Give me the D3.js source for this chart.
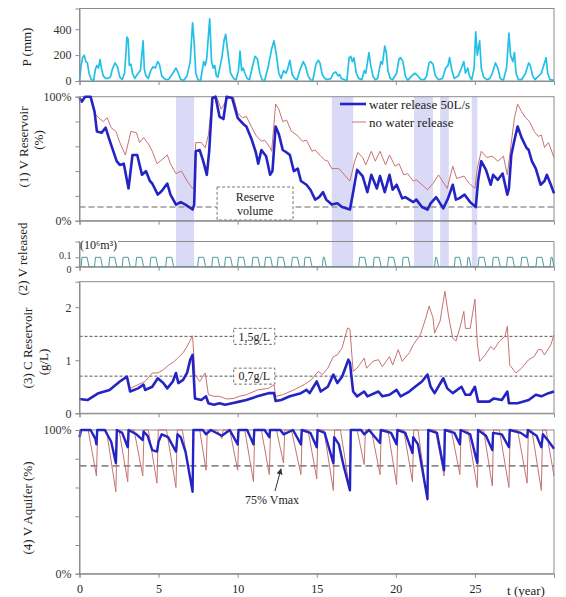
<!DOCTYPE html>
<html>
<head>
<meta charset="utf-8">
<script src="https://cdnjs.cloudflare.com/ajax/libs/d3/7.8.5/d3.min.js"></script>
<style>
  body { margin: 0; background: #fff; }
  svg text { font-family: "Liberation Serif", "DejaVu Serif", serif; }
</style>
</head>
<body>
<svg id="chart" width="566" height="597"></svg>
<script>

// ---- data (t in years) ----

var yearTicks = [0, 5, 10, 15, 20, 25];

// precipitation (mm)
var rain = [[0,0],[0.1,120],[0.2,180],[0.3,200],[0.4,150],[0.5,140],[0.6,60],[0.75,10],[0.9,5],
  [1.0,90],[1.1,120],[1.2,100],[1.3,165],[1.4,90],[1.5,40],[1.65,20],[1.8,20],[1.95,30],
  [2.1,100],[2.25,140],[2.4,110],[2.55,30],[2.7,10],[2.85,60],
  [3.0,340],[3.08,320],[3.15,120],[3.25,130],[3.35,60],[3.5,20],[3.7,60],[3.85,80],
  [4.02,310],[4.1,90],[4.2,40],[4.35,20],[4.5,80],[4.65,110],[4.8,100],[4.95,150],[5.05,130],[5.2,40],[5.35,20],[5.5,10],[5.65,15],
  [5.9,60],[6.1,100],[6.25,60],[6.4,10],[6.6,5],[6.8,40],[7.0,150],[7.15,450],[7.25,300],[7.35,60],[7.5,10],[7.65,0],
  [7.85,150],[7.95,120],[8.05,180],[8.15,350],[8.23,480],[8.35,150],[8.45,100],[8.55,120],[8.65,40],[8.75,30],
  [9.0,180],[9.15,320],[9.24,360],[9.4,200],[9.55,60],[9.75,20],[9.9,10],
  [10.05,80],[10.15,230],[10.25,80],[10.35,100],[10.45,60],[10.6,20],[10.75,10],
  [10.95,120],[11.1,190],[11.25,170],[11.4,60],[11.55,10],[11.7,0],
  [11.95,120],[12.15,250],[12.3,310],[12.45,200],[12.6,60],[12.75,20],
  [12.9,80],[13.05,60],[13.15,90],[13.3,160],[13.45,50],[13.6,20],[13.75,10],
  [13.95,90],[14.15,150],[14.3,110],[14.45,40],[14.6,10],[14.75,5],
  [14.95,130],[15.1,160],[15.2,140],[15.35,50],[15.5,20],[15.7,10],[15.9,20],
  [16.05,60],[16.2,70],[16.35,40],[16.45,50],[16.55,20],[16.75,10],[16.9,0],
  [17.05,180],[17.15,190],[17.25,150],[17.35,180],[17.5,60],[17.65,20],[17.85,10],
  [18.0,80],[18.1,60],[18.3,220],[18.4,130],[18.55,40],[18.7,10],[18.85,20],
  [19.05,150],[19.15,130],[19.3,270],[19.4,220],[19.5,80],[19.65,20],[19.8,10],
  [20.05,60],[20.2,170],[20.3,180],[20.45,150],[20.6,40],[20.75,5],
  [21.0,40],[21.2,60],[21.3,50],[21.45,30],[21.6,10],[21.8,10],
  [21.95,40],[22.1,140],[22.2,150],[22.35,130],[22.5,40],[22.7,10],
  [22.95,20],[23.15,100],[23.3,120],[23.4,180],[23.55,80],[23.7,20],
  [23.95,40],[24.15,100],[24.3,150],[24.4,60],[24.55,100],[24.65,40],[24.8,10],
  [24.95,100],[25.05,380],[25.15,200],[25.3,310],[25.4,100],[25.55,30],[25.75,10],
  [25.95,20],[26.1,60],[26.3,140],[26.45,100],[26.6,20],[26.8,5],
  [27.0,100],[27.15,370],[27.25,200],[27.4,150],[27.5,220],[27.6,60],[27.75,10],[27.95,10],
  [28.2,60],[28.4,140],[28.5,120],[28.65,40],[28.8,10],
  [29.2,60],[29.35,120],[29.5,180],[29.6,60],[29.75,10],[30,5]];

// (1) reservoir volume (%)
var vResRelease = [[0,99],[0.15,96],[0.35,100],[0.7,100],[0.95,88],[1.1,72],[1.4,71],[1.65,75],[1.9,65],[2.35,48],[2.55,45],[2.8,46],
  [3.1,26],[3.35,53],[3.65,53],[3.95,37],[4.2,40],[4.45,32],[4.6,30],[4.95,21],[5.2,24],[5.55,30],[5.75,21],[6.1,13],[6.4,15],[6.7,13],
  [7.15,9],[7.25,13],[7.35,56],[7.6,57],[7.8,49],[8.05,37],[8.2,56],[8.4,99],[8.6,100],[8.85,84],[9.1,82],[9.3,100],[9.65,99],
  [10.0,83],[10.35,78],[10.55,76],[10.9,65],[11.15,55],[11.3,46],[11.5,57],[11.8,52],[12.05,37],[12.2,40],[12.4,76],[12.6,70],
  [12.85,57],[13.1,55],[13.3,53],[13.55,40],[13.8,42],[14.0,32],[14.35,29],[14.6,25],[14.9,17],[15.15,19],[15.4,23],[15.6,17],
  [15.95,13],[16.3,14],[16.6,11],[17.1,9],[17.3,23],[17.55,41],[17.9,36],[18.2,23],[18.45,37],[18.8,26],[19.0,36],[19.3,23],
  [19.6,37],[19.8,25],[20.05,29],[20.4,18],[20.6,19],[21.1,15],[21.3,17],[21.65,11],[22.0,9],[22.2,14],[22.55,19],[22.8,14],
  [23.0,10],[23.3,18],[23.6,29],[23.8,17],[24.0,18],[24.35,21],[24.7,15],[25.05,11],[25.2,32],[25.4,48],[25.7,41],[26.0,29],
  [26.15,37],[26.45,33],[26.75,38],[27.05,21],[27.15,26],[27.3,53],[27.5,65],[27.7,76],[27.95,67],[28.25,59],[28.4,57],
  [28.6,48],[28.85,42],[29.15,29],[29.4,32],[29.55,37],[29.8,29],[30,22]];

var vResNoRelease = [[0,99],[0.15,96],[0.35,100],[0.7,100],[1.0,86],[1.2,83],[1.5,80],[1.75,83],[2.0,75],[2.3,72],[2.55,63],[2.9,53],
  [3.25,72],[3.6,71],[3.8,63],[4.05,67],[4.4,61],[4.6,56],[4.9,46],[5.2,49],[5.55,53],[5.75,46],[6.1,38],[6.45,40],[6.8,32],
  [7.15,26],[7.25,27],[7.35,63],[7.7,63],[7.95,59],[8.15,69],[8.4,100],[8.7,99],[8.95,90],[9.2,95],[9.4,100],[9.75,99],
  [10.0,87],[10.3,83],[10.55,84],[10.9,75],[11.15,69],[11.5,64],[11.7,65],[12.05,59],[12.15,56],[12.4,94],[12.6,90],[12.85,80],
  [13.1,81],[13.4,72],[13.75,69],[14.1,64],[14.35,65],[14.7,56],[14.9,57],[15.25,52],[15.5,49],[15.7,48],[15.95,42],[16.4,42],
  [16.75,37],[17.1,32],[17.4,48],[17.6,55],[17.9,51],[18.1,45],[18.45,56],[18.7,48],[19.0,56],[19.35,45],[19.6,53],[19.95,44],
  [20.2,46],[20.5,37],[20.75,38],[21.1,32],[21.3,33],[21.65,29],[22.0,25],[22.35,30],[22.7,37],[22.95,32],[23.25,26],[23.6,44],
  [23.85,34],[24.3,36],[24.65,30],[25.0,26],[25.15,42],[25.4,56],[25.75,51],[26.1,52],[26.45,48],[26.8,52],[27.05,37],[27.3,63],
  [27.5,83],[27.7,94],[27.95,88],[28.2,83],[28.45,80],[28.75,72],[29.0,68],[29.2,69],[29.4,59],[29.65,63],[30,51]];

var reserveLevel = 11;

// periods shaded in panels (1) and (2)
var bandStart = [6.1, 15.95, 21.15, 22.8, 24.8];
var bandEnd = [7.25, 17.3, 22.35, 23.35, 25.15];

// (2) released volume pulses (start year, duration, peak 10^6 m3)
var releaseStart = [0.1, 0.95, 1.85, 2.7, 3.55, 4.45, 5.45, 7.47, 8.36, 9.17, 9.99, 10.9, 11.7, 12.5, 13.4, 14.2, 15.35,
  17.65, 18.57, 19.48, 20.4, 22.45, 23.7, 24.5, 25.2, 26.1, 27.0, 27.9, 28.86, 29.75];
var releaseWidth = [0.5, 0.5, 0.5, 0.5, 0.5, 0.5, 0.5, 0.5, 0.5, 0.5, 0.5, 0.5, 0.5, 0.5, 0.5, 0.5, 0.25,
  0.5, 0.5, 0.5, 0.5, 0.25, 0.45, 0.25, 0.5, 0.5, 0.5, 0.5, 0.5, 0.25];
var releasePeak = 0.1;

// (3) reservoir concentration (g/L)
var cResRelease = [[0,0.27],[0.5,0.25],[1.2,0.38],[1.9,0.44],[2.55,0.6],[3.0,0.69],[3.2,0.41],[3.7,0.47],[4.05,0.54],[4.15,0.44],
  [4.6,0.5],[4.95,0.66],[5.3,0.57],[5.55,0.47],[5.9,0.6],[6.1,0.76],[6.25,0.57],[6.55,0.63],[6.8,0.76],[7.0,1.01],[7.15,1.1],
  [7.3,0.28],[7.7,0.25],[8.0,0.32],[8.15,0.19],[8.5,0.16],[8.85,0.19],[9.2,0.16],[9.65,0.19],[10.1,0.22],[10.55,0.25],[11.25,0.32],
  [11.95,0.38],[12.3,0.38],[12.4,0.23],[12.75,0.25],[13.3,0.32],[14.0,0.38],[14.35,0.44],[14.55,0.38],[15.0,0.6],[15.25,0.41],
  [15.7,0.5],[16.05,0.73],[16.3,0.57],[16.6,0.69],[17.0,1.01],[17.1,0.95],[17.3,0.41],[17.55,0.32],[18.0,0.41],[18.2,0.32],
  [18.9,0.41],[19.15,0.32],[19.6,0.35],[20.05,0.44],[20.3,0.32],[20.85,0.41],[21.1,0.47],[21.65,0.6],[22.0,0.73],[22.2,0.5],
  [22.45,0.38],[23.0,0.66],[23.25,0.47],[23.6,0.38],[24.15,0.5],[24.4,0.35],[24.7,0.35],[25.0,0.5],[25.2,0.22],[25.9,0.22],
  [26.2,0.28],[26.7,0.25],[27.05,0.41],[27.15,0.19],[27.7,0.19],[28.4,0.25],[28.85,0.35],[29.2,0.32],[29.65,0.38],[30,0.41]];

var cResNoRelease = [[0,0.27],[0.5,0.25],[1.2,0.38],[1.9,0.44],[2.55,0.6],[3.0,0.69],[3.2,0.47],[3.7,0.54],[4.15,0.6],[4.6,0.76],
  [4.95,0.76],[5.3,0.82],[5.65,0.91],[6.0,0.98],[6.2,1.04],[6.55,1.14],[6.8,1.26],[7.15,1.46],[7.3,0.73],[7.6,0.6],[7.95,0.76],
  [8.15,0.35],[8.5,0.32],[8.85,0.32],[9.3,0.27],[9.75,0.28],[10.1,0.32],[10.55,0.35],[11.25,0.44],[11.95,0.47],[12.3,0.54],
  [12.4,0.32],[12.85,0.35],[13.55,0.44],[14.2,0.54],[14.65,0.63],[15.1,0.79],[15.35,0.73],[15.7,0.85],[16.05,1.07],[16.3,1.1],
  [16.6,1.23],[16.95,1.61],[17.1,1.58],[17.3,0.79],[17.55,0.85],[18.0,1.04],[18.15,0.85],[18.55,0.98],[18.9,1.01],[19.15,0.88],
  [19.6,1.07],[19.8,0.91],[20.15,1.2],[20.4,0.98],[20.85,1.14],[21.1,1.29],[21.55,1.48],[21.9,1.8],[22.1,2.02],[22.35,1.8],
  [22.45,1.51],[22.8,1.74],[23.1,2.3],[23.35,1.8],[23.6,1.42],[23.8,1.36],[24.05,1.61],[24.3,1.92],[24.4,1.6],[24.7,1.6],
  [25.0,2.15],[25.15,1.32],[25.3,0.98],[25.65,1.1],[26.0,1.26],[26.2,1.2],[26.55,1.36],[26.9,1.45],[27.05,1.64],[27.2,0.91],
  [27.6,0.76],[27.95,0.85],[28.4,1.01],[28.75,1.07],[29.0,1.2],[29.2,1.2],[29.4,1.1],[29.8,1.29],[30,1.48]];

var cLimits = [1.45, 0.7];
var cLimitLabels = ["1,5g/L", "0,7g/L"];

// (4) aquifer volume (%)
var vAqNoRelease = [[0,97],[0.1,100],[0.55,100],[1.07,68],[1.15,100],[1.7,100],[2.3,57],[2.38,100],[2.5,100],[3.05,64],[3.13,100],
  [3.45,100],[4.0,68],[4.08,100],[4.35,100],[4.9,63],[4.98,100],[5.5,100],[6.1,60],[6.18,100],[6.5,100],[7.15,57],[7.23,100],
  [7.6,100],[8.0,72],[8.08,100],[8.7,100],[9.0,94],[9.08,100],[9.5,100],[10.0,72],[10.08,100],[10.45,100],[11.0,64],[11.08,100],
  [11.5,100],[12.0,69],[12.08,100],[12.45,100],[12.9,77],[12.98,100],[13.4,100],[14.0,69],[14.08,100],[14.45,100],[15.0,66],
  [15.08,100],[15.45,100],[16.05,58],[16.13,100],[16.5,100],[17.1,58],[17.18,100],[17.55,100],[18.0,76],[18.08,100],[18.45,100],
  [19.0,69],[19.08,100],[19.5,100],[20.05,62],[20.13,100],[20.5,100],[21.05,64],[21.13,100],[21.4,100],[22.0,51],[22.08,100],
  [22.5,100],[23.05,68],[23.13,100],[23.5,100],[24.05,69],[24.13,100],[24.55,100],[25.15,60],[25.23,100],[25.55,100],[26.1,61],
  [26.18,100],[26.55,100],[27.15,60],[27.23,100],[27.7,100],[28.3,63],[28.38,100],[28.6,100],[29.2,58],[29.28,100],[29.5,100],[30,68]];

var vAqRelease = [[0,95],[0.1,100],[0.7,100],[1.0,94],[1.07,90],[1.12,100],[1.6,100],[2.0,92],[2.3,77],[2.36,100],[2.7,98],
  [3.05,88],[3.1,100],[3.6,97],[4.0,93],[4.05,99],[4.3,96],[4.6,86],[4.9,85],[5.0,92],[5.2,97],[5.6,95],[6.1,85],[6.2,97],
  [6.4,95],[6.7,85],[7.15,57],[7.2,100],[7.8,100],[8.0,97],[8.3,100],[9.0,96],[9.5,100],[10.0,90],[10.05,100],[10.6,100],
  [11.0,90],[11.05,100],[11.7,100],[12.0,95],[12.05,100],[12.7,100],[12.9,97],[13.5,100],[14.0,90],[14.05,100],[14.6,98],
  [15.0,88],[15.05,100],[15.5,98],[16.05,77],[16.1,95],[16.4,90],[16.7,75],[17.1,58],[17.15,100],[17.8,100],[18.0,97],
  [18.3,100],[19.0,91],[19.05,100],[19.7,98],[20.05,90],[20.1,100],[20.6,98],[21.05,84],[21.1,95],[21.4,90],[22.0,52],
  [22.05,100],[22.6,98],[23.05,72],[23.1,100],[23.7,98],[24.05,90],[24.1,100],[24.7,97],[25.15,77],[25.2,100],[25.7,96],
  [26.1,86],[26.15,98],[26.7,97],[27.15,88],[27.2,100],[27.9,98],[28.3,95],[28.35,100],[28.9,96],[29.2,88],[29.3,97],
  [29.6,93],[30,87]];

var aquiferLevel = 75;

// ---- drawing ----

var svg = d3.select("#chart");
var serif = "Liberation Serif, DejaVu Serif, serif";

var colRelease = "#2424c4";
var colNoRelease = "#c87272";
var colRain = "#22c0e6";
var colFrame = "#8c8c8c";

// x scale shared by all panels
var x = d3.scaleLinear().domain([0, 30]).range([79.5, 554]);

// vertical placement of the five panels
var yP = d3.scaleLinear().domain([0, 560]).range([81, 8.5]);
var yV = d3.scaleLinear().domain([0, 100]).range([220.7, 96.7]);
var yR = d3.scaleLinear().domain([0, 0.268]).range([266.7, 241.5]);
var yC = d3.scaleLinear().domain([0, 2.48]).range([413.3, 281.7]);
var yA = d3.scaleLinear().domain([0, 100]).range([573.7, 430]);

// shaded periods behind panels (1) and (2)
svg.selectAll(".band")
    .data(bandStart)
    .enter()
    .append("rect")
    .attr("class", "band")
    .attr("x", function (d) { return x(d); })
    .attr("width", function (d, i) { return x(bandEnd[i]) - x(d); })
    .attr("y", yV.range()[1])
    .attr("height", yR.range()[0] - yV.range()[1])
    .attr("fill", "#dadaf6");

function frame(scale) {
    var r = scale.range();
    svg.append("rect")
        .attr("x", x(0)).attr("y", r[1])
        .attr("width", x(30) - x(0)).attr("height", r[0] - r[1])
        .attr("fill", "none").attr("stroke", colFrame).attr("stroke-width", 1);
}

function yAxis(scale, ticks, fmt, size) {
    var g = svg.append("g")
        .attr("transform", "translate(" + x(0) + ",0)")
        .call(d3.axisLeft(scale).tickValues(ticks).tickSize(4).tickPadding(4).tickFormat(fmt));
    g.attr("font-family", serif);
    g.select(".domain").attr("stroke", colFrame);
    g.selectAll(".tick line").attr("stroke", colFrame);
    g.selectAll("text").attr("font-size", size || 12).attr("fill", "#333");
    return g;
}

function xTicks(scale, labels) {
    var g = svg.append("g")
        .attr("transform", "translate(0," + scale.range()[0] + ")")
        .call(d3.axisBottom(x).tickValues(yearTicks).tickSize(4).tickPadding(7)
            .tickFormat(labels ? d3.format("d") : ""));
    g.attr("font-family", serif);
    g.select(".domain").attr("stroke", colFrame);
    g.selectAll(".tick line").attr("stroke", colFrame);
    g.selectAll("text").attr("font-size", 12).attr("fill", "#222");
}

function series(data, scale, color, width) {
    var line = d3.line()
        .x(function (d) { return x(d[0]); })
        .y(function (d) { return scale(d[1]); });
    svg.append("path")
        .datum(data)
        .attr("fill", "none")
        .attr("stroke", color)
        .attr("stroke-width", width)
        .attr("stroke-linejoin", "round")
        .attr("d", line);
}

function hline(scale, v, color, dash, width) {
    svg.append("line")
        .attr("x1", x(0)).attr("x2", x(30))
        .attr("y1", scale(v)).attr("y2", scale(v))
        .attr("stroke", color).attr("stroke-dasharray", dash).attr("stroke-width", width);
}

function label(px, py, t, size, anchor) {
    return svg.append("text")
        .attr("x", px).attr("y", py)
        .attr("dy", "0.35em")
        .attr("text-anchor", anchor || "middle")
        .attr("font-family", serif)
        .attr("font-size", size)
        .attr("fill", "#222")
        .text(t);
}

function dashedLabel(cx, cy, w, h, lines, size) {
    svg.append("rect")
        .attr("x", cx - w / 2).attr("y", cy - h / 2)
        .attr("width", w).attr("height", h)
        .attr("fill", "#fff").attr("stroke", "#777").attr("stroke-dasharray", "3,2");
    lines.forEach(function (t, i) {
        label(cx, cy - (lines.length - 1) * 7 + i * 14, t, size);
    });
}

function yTitle(cx, cy, t) {
    label(0, 0, t, 13).attr("transform", "translate(" + cx + "," + cy + ") rotate(-90)");
}

// P panel
frame(yP);
series(rain, yP, colRain, 1.7);
yAxis(yP, [0, 200, 400], d3.format("d"));
xTicks(yP, false);
yTitle(26, 47, "P (mm)");

// (1) reservoir volume
hline(yV, reserveLevel, "#999", "6,3", 1.5);
dashedLabel((x(8.7) + x(13.5)) / 2, 203.5, x(13.5) - x(8.7), 33, ["Reserve", "volume"], 12);
frame(yV);
series(vResNoRelease, yV, colNoRelease, 1);
series(vResRelease, yV, colRelease, 2.6);
yAxis(yV, [0, 20, 40, 60, 80, 100], function (d) { return (d === 0 || d === 100) ? d + "%" : ""; });
xTicks(yV, false);
yTitle(23, 147, "(1) V Reservoir");
yTitle(38, 140, "(%)");

// legend
svg.append("line").attr("x1", 340).attr("x2", 366).attr("y1", 104).attr("y2", 104)
    .attr("stroke", colRelease).attr("stroke-width", 2.6);
svg.append("line").attr("x1", 352).attr("x2", 366).attr("y1", 122).attr("y2", 122)
    .attr("stroke", colNoRelease).attr("stroke-width", 1);
label(369, 104, "water release 50L/s", 13, "start");
label(369, 122, "no water release", 13, "start");

// (2) released volume
var pulses = [];
releaseStart.forEach(function (s, i) {
    var w = releaseWidth[i];
    var rise = Math.min(0.06, w / 2), fall = Math.min(0.12, w / 2);
    pulses.push([s, 0], [s + rise, releasePeak], [s + w - fall, releasePeak], [Math.min(s + w, 30), 0]);
});
var rTop = yR.range()[1];
svg.append("path")
    .attr("d", "M" + 118 + "," + rTop + "H" + x(30) + "V" + yR(0) + "H" + x(0) + "V" + rTop)
    .attr("fill", "none").attr("stroke", colFrame);
series([[0, 0]].concat(pulses).concat([[30, 0]]), yR, "#4f9a9a", 1);
var rAxis = yAxis(yR, [0, 0.1], function (d) { return d === 0 ? "0" : "0.1"; }, 10);
rAxis.selectAll("text").attr("dy", function (d) { return d === 0 ? "0.55em" : "0.15em"; });
xTicks(yR, false);
label(80, 245, "(10⁶m³)", 12, "start");
yTitle(22, 259, "(2) V released");

// (3) reservoir concentration
frame(yC);
cLimits.forEach(function (v) { hline(yC, v, "#555", "3,2", 1); });
cLimits.forEach(function (v, i) {
    dashedLabel((x(9.75) + x(12.35)) / 2, yC(v), x(12.35) - x(9.75), 16, [cLimitLabels[i]], 12);
});
series(cResNoRelease, yC, colNoRelease, 1);
series(cResRelease, yC, colRelease, 2.6);
yAxis(yC, [0, 1, 2], d3.format("d"));
xTicks(yC, false);
yTitle(27, 348, "(3) C Reservoir");
yTitle(43, 362, "(g/L)");

// (4) aquifer volume
frame(yA);
hline(yA, aquiferLevel, "#333", "7,4", 1);
series(vAqNoRelease, yA, colNoRelease, 1);
series(vAqRelease, yA, colRelease, 2.4);
yAxis(yA, [0, 20, 40, 60, 80, 100], function (d) { return (d === 0 || d === 100) ? d + "%" : ""; });
xTicks(yA, true);
yTitle(27, 508, "(4) V Aquifer (%)");

// 75% Vmax annotation
svg.append("defs").append("marker")
    .attr("id", "arrow").attr("viewBox", "0 0 10 10").attr("refX", 9).attr("refY", 5)
    .attr("markerWidth", 6).attr("markerHeight", 6).attr("orient", "auto")
    .append("path").attr("d", "M0,0L10,5L0,10z").attr("fill", "#333");
svg.append("line")
    .attr("x1", 275).attr("y1", 491).attr("x2", 281).attr("y2", yA(aquiferLevel) + 3)
    .attr("stroke", "#333").attr("stroke-width", 1).attr("marker-end", "url(#arrow)");
label(272, 500, "75% Vmax", 12);

label(526, 590, "t (year)", 13);

</script>
</body>
</html>
